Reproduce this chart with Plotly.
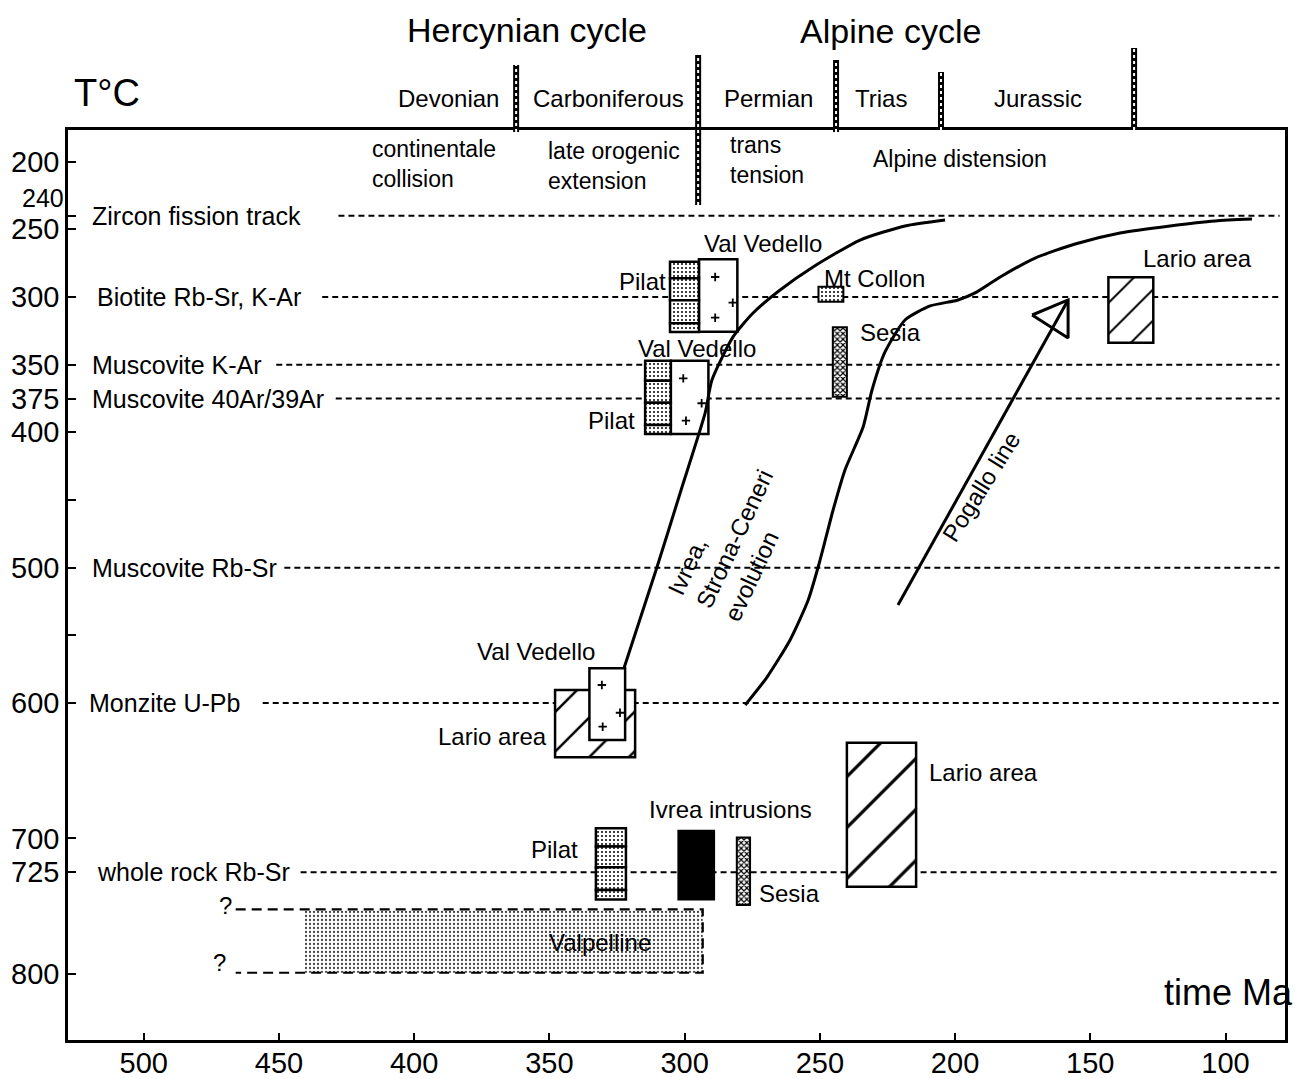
import plotly.graph_objects as go

# ---------------- data ----------------
# closure-temperature levels (T in degC) of the isotopic systems
level_labels = ["Zircon fission track", "Biotite Rb-Sr, K-Ar", "Muscovite K-Ar",
                "Muscovite 40Ar/39Ar", "Muscovite Rb-Sr", "Monzite U-Pb", "whole rock Rb-Sr"]
level_temp = [240, 300, 350, 375, 500, 600, 725]
level_start_ma = [428, 434, 451, 429, 448, 456, 442]
level_end_ma = [80, 80, 80, 80, 80, 80, 80]
level_label_ma = [520, 518, 520, 520, 520, 521, 518]

# axes
x_range = [528, 78]
y_range = [849, 176.6]
x_tick_vals = [500, 450, 400, 350, 300, 250, 200, 150, 100]
y_tick_vals = [200, 240, 250, 300, 350, 375, 400, 450, 500, 550, 600, 700, 725, 800]
y_tick_text = ["200", "", "250", "300", "350", "375", "400", "", "500", "", "600", "700", "725", "800"]
y_tick_shifted = ["240"]
y_tick_shifted_val = [240]

# geological periods, cycles and tectonic phases
period_names = ["Devonian", "Carboniferous", "Permian", "Trias", "Jurassic"]
period_label_ma = [387.4, 328.0, 268.8, 227.4, 169.3]
period_boundary_ma = [362.3, 295.0, 244.0, 205.2, 133.8]
cycle_names = ["Hercynian cycle", "Alpine cycle"]
cycle_label_ma = [358.3, 224.0]
phase_names = ["continentale<br>collision", "late orogenic<br>extension", "trans<br>tension", "Alpine distension"]
phase_start_ma = [416.3, 351.2, 284.0, 231.1]
phase_temp = [201.4, 203.2, 199.1, 198.3]

# sample boxes: (older Ma, younger Ma) and (upper T, lower T)
pilat_age = [(305.4, 294.7), (314.6, 305.1), (332.8, 321.7)]
pilat_cells = [[274.0, 286.1, 302.4, 319.4, 325.8],
               [347.1, 361.8, 378.1, 394.5, 401.2],
               [692.5, 706.1, 721.4, 738.1, 745.1]]
vedello_age = [(294.7, 280.5), (305.1, 291.2), (335.2, 322.0)]
vedello_temp = [(272.1, 325.7), (347.1, 401.2), (574.4, 627.3)]
vedello_plus_ma = [288.7, 282.2, 288.7, 300.5, 293.7, 299.5, 330.6, 323.9, 330.3]
vedello_plus_temp = [285.2, 304.2, 315.3, 360.1, 378.5, 391.4, 586.7, 607.2, 617.5]
lario_age = [(143.3, 126.7), (347.9, 318.3), (240.0, 214.4)]
lario_temp = [(285.4, 333.8), (590.4, 640.1), (629.4, 735.8)]
sesia_age = [(245.2, 240.0), (280.7, 275.8)]
sesia_temp = [(322.4, 373.7), (699.3, 749.3)]
mtcollon_age = (250.5, 241.3)
mtcollon_temp = (292.5, 303.5)
ivrea_age = (302.3, 289.1)
ivrea_temp = (694.4, 745.1)
valpelline_age = (440.4, 293.3)
valpelline_temp = (752.5, 799.3)
valpelline_uncertain_ma = 466

# evolution paths
curve1_ma = [322.4, 310.2, 301.3, 292.4, 289.9, 282.1, 274.7, 264.7, 252.5, 235.1, 218.5, 203.7]
curve1_temp = [574.1, 499.5, 442.6, 385.7, 361.3, 329.5, 311.8, 294.8, 277.8, 257.9, 247.5, 243.1]
curve2_ma = [277.6, 269.5, 261.0, 254.3, 249.9, 245.1, 240.7, 234.0, 230.7, 225.9, 218.5,
             209.2, 198.9, 192.6, 183.3, 170.4, 155.6, 139.0, 120.5, 103.8, 90.2]
curve2_temp = [601.5, 580.8, 553.4, 523.9, 494.3, 457.4, 427.8, 396.1, 368.7, 340.6, 317.0,
               306.6, 302.2, 297.0, 285.2, 271.2, 260.8, 252.7, 247.5, 243.8, 242.4]
pogallo_ma = [221.1, 158.2]
pogallo_temp = [527.6, 302.2]
pogallo_head_ma = [171.5, 158.2, 158.2, 171.5]
pogallo_head_temp = [313.3, 302.2, 330.3, 313.3]

# text labels of samples
label_text = ["Val Vedello", "Pilat", "Mt Collon", "Sesia", "Val Vedello", "Pilat", "Lario area",
              "Val Vedello", "Lario area", "Lario area", "Ivrea intrusions", "Pilat", "Sesia",
              "Valpelline", "?", "?"]
label_ma = [271.0, 306.3, 249.2, 235.9, 295.6, 317.6, 110.5, 354.9, 350.1, 210.4, 283.2, 338.7,
            273.2, 331.3, 469.9, 471.8]
label_temp = [260.8, 288.2, 286.0, 325.9, 337.7, 391.6, 271.2, 561.6, 625.1, 651.7, 679.0, 708.6,
              740.4, 776.6, 749.3, 791.4]
label_anchor = ["center", "right", "left", "left", "center", "right", "center", "center", "right",
                "left", "center", "right", "left", "center", "center", "center"]

# ---------------- styles ----------------
FONT = "Liberation Sans, Arial, Helvetica, sans-serif"
BLACK = "black"
# the page body has an 8 px margin, so the figure is made 8 px smaller and margins compensated
PAGE_OFFSET = 8
bnd_top = [1.0714, 1.0824, 1.0769, 1.0637, 1.0901]
bnd_bot = [0.9978, 0.9176, 0.9978, 1.0, 1.0]
cycle_y = [1.1098, 1.1085]


def pat(shape, fg, size, solidity):
    return dict(shape=shape, fgcolor=fg, bgcolor="white", size=size, solidity=solidity,
                fgopacity=1, fillmode="replace")


stipple = dict(color="white", line=dict(color=BLACK, width=2.5), pattern=pat(".", BLACK, 4, 0.2))
dense = dict(color="white", line=dict(color=BLACK, width=2), pattern=pat("x", BLACK, 4, 0.5))
plain = dict(color="white", line=dict(color=BLACK, width=2.5))
solid = dict(color=BLACK, line=dict(color=BLACK, width=2))
valp = dict(color="white", line=dict(width=0), pattern=pat(".", "#444444", 4, 0.25))


def hatch(size):
    return dict(color="white", line=dict(color=BLACK, width=2.5), pattern=pat("/", BLACK, size, 0.09))


fig = go.Figure()


def add_box(age, temp, marker):
    old, young = age
    top, bot = temp
    fig.add_trace(go.Bar(x=[(old + young) / 2], y=[bot - top], base=[top], width=[old - young],
                         marker=marker, opacity=1, hoverinfo="skip", showlegend=False))


# boxes
add_box(valpelline_age, valpelline_temp, valp)
for age, temp, size in zip(lario_age, lario_temp, [22, 28, 36]):
    add_box(age, temp, hatch(size))
for age, temp in zip(vedello_age, vedello_temp):
    add_box(age, temp, plain)
for age, cells in zip(pilat_age, pilat_cells):
    for t0, t1 in zip(cells[:-1], cells[1:]):
        add_box(age, (t0, t1), stipple)
for age, temp in zip(sesia_age, sesia_temp):
    add_box(age, temp, dense)
add_box(mtcollon_age, mtcollon_temp, dict(stipple, line=dict(color=BLACK, width=2)))
add_box(ivrea_age, ivrea_temp, solid)

# plus signs in the Val Vedello boxes
fig.add_trace(go.Scatter(x=vedello_plus_ma, y=vedello_plus_temp, mode="markers",
                         marker=dict(symbol="cross-thin", size=6, line=dict(width=1.8, color=BLACK)),
                         hoverinfo="skip", showlegend=False))

# Valpelline dashed outline
fig.add_trace(go.Scatter(x=[valpelline_uncertain_ma, valpelline_age[1], valpelline_age[1], valpelline_uncertain_ma],
                         y=[valpelline_temp[0], valpelline_temp[0], valpelline_temp[1], valpelline_temp[1]],
                         mode="lines", line=dict(color=BLACK, width=2.2, dash="10px,6px"),
                         hoverinfo="skip", showlegend=False))

# evolution curves
for cx, cy in [(curve1_ma, curve1_temp), (curve2_ma, curve2_temp)]:
    fig.add_trace(go.Scatter(x=cx, y=cy, mode="lines",
                             line=dict(color=BLACK, width=3, shape="spline", smoothing=0.6),
                             hoverinfo="skip", showlegend=False))
fig.add_trace(go.Scatter(x=pogallo_ma, y=pogallo_temp, mode="lines",
                         line=dict(color=BLACK, width=3), hoverinfo="skip", showlegend=False))
fig.add_trace(go.Scatter(x=pogallo_head_ma, y=pogallo_head_temp, mode="lines",
                         line=dict(color=BLACK, width=3), hoverinfo="skip", showlegend=False))

# dashed closure-temperature levels and their labels
for lab, t, s, e, lx in zip(level_labels, level_temp, level_start_ma, level_end_ma, level_label_ma):
    fig.add_shape(type="line", xref="x", yref="y", x0=s, x1=e, y0=t, y1=t, layer="below",
                  line=dict(color=BLACK, width=2, dash="6px,4px"))
    fig.add_annotation(x=lx, y=t, text=lab, showarrow=False, xanchor="left", yanchor="middle",
                       font=dict(size=25))

# period boundaries (hatched rope-like vertical lines)
for ma, yt, yb in zip(period_boundary_ma, bnd_top, bnd_bot):
    fig.add_shape(type="line", xref="x", yref="paper", x0=ma, x1=ma, y0=yb, y1=yt,
                  line=dict(color=BLACK, width=6))
    fig.add_shape(type="line", xref="x", yref="paper", x0=ma, x1=ma, y0=yb, y1=yt,
                  line=dict(color="white", width=2, dash="dot"))

for name, ma in zip(period_names, period_label_ma):
    fig.add_annotation(x=ma, y=1.0341, xref="x", yref="paper", text=name, showarrow=False,
                       xanchor="center", yanchor="middle", font=dict(size=24))
for name, ma, yy in zip(cycle_names, cycle_label_ma, cycle_y):
    fig.add_annotation(x=ma, y=yy, xref="x", yref="paper", text=name, showarrow=False,
                       xanchor="center", yanchor="middle", font=dict(size=34))
fig.add_annotation(x=0.003, y=1.0407, xref="paper", yref="paper", text="T°C", showarrow=False,
                   xanchor="left", yanchor="middle", font=dict(size=38))
for name, ma, t in zip(phase_names, phase_start_ma, phase_temp):
    fig.add_annotation(x=ma, y=t, text=name, showarrow=False, xanchor="left", yanchor="middle",
                       align="left", font=dict(size=23))

# sample labels
for txt, ma, t, anc in zip(label_text, label_ma, label_temp, label_anchor):
    fig.add_annotation(x=ma, y=t, text=txt, showarrow=False, xanchor=anc, yanchor="middle",
                       font=dict(size=24))

# rotated path labels
fig.add_annotation(x=281.5, y=478.8, text="Ivrea,<br>Strona-Ceneri<br>evolution", showarrow=False,
                   textangle=-65, align="left", xanchor="center", yanchor="middle", font=dict(size=24))
fig.add_annotation(x=190.3, y=440.0, text="Pogallo line", showarrow=False, textangle=-58,
                   xanchor="center", yanchor="middle", font=dict(size=24))
fig.add_annotation(x=99.0, y=814.2, text="time Ma", showarrow=False, xanchor="center",
                   yanchor="middle", font=dict(size=36))

# shifted y tick label (kept clear of the "250" label just below it)
for txt, v in zip(y_tick_shifted, y_tick_shifted_val):
    fig.add_annotation(x=0, y=v, xref="paper", yref="y", text=txt, showarrow=False, xanchor="right",
                       yanchor="middle", xshift=-3, yshift=18, font=dict(size=25), borderpad=0)

axis_common = dict(showline=True, linewidth=2.5, linecolor=BLACK, mirror=True, showgrid=False,
                   zeroline=False, ticks="inside", tickwidth=2, tickcolor=BLACK, automargin=False,
                   tickfont=dict(size=29, color=BLACK, family=FONT))
fig.update_xaxes(range=x_range, tickvals=x_tick_vals, ticklen=7, ticklabelstandoff=-5, **axis_common)
fig.update_yaxes(range=y_range, tickvals=y_tick_vals, ticktext=y_tick_text, ticklen=8, **axis_common)

fig.update_layout(width=1309 - PAGE_OFFSET, height=1079 - PAGE_OFFSET,
                  margin=dict(l=68 - PAGE_OFFSET, r=24, t=130 - PAGE_OFFSET, b=39, autoexpand=False),
                  plot_bgcolor="white", paper_bgcolor="white", showlegend=False, barmode="overlay",
                  font=dict(family=FONT, size=24, color=BLACK))

fig.write_html("out.html")
